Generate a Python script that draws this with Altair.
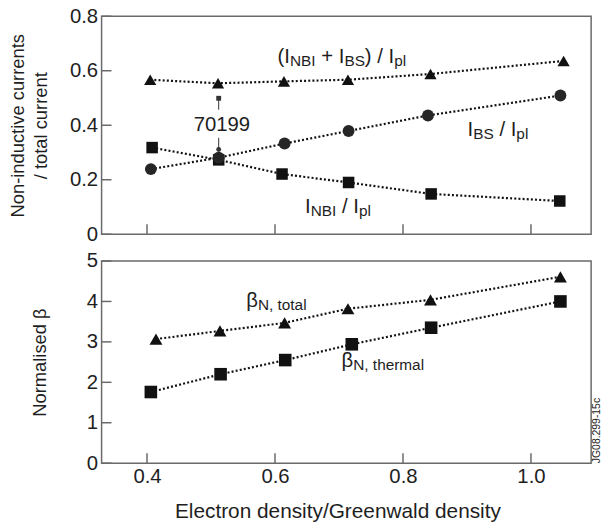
import altair as alt
import pandas as pd

# ---------------- data ----------------
# top panel: fraction of plasma current
ne_tot = [0.405, 0.511, 0.614, 0.714, 0.843, 1.051]
frac_total = [0.567, 0.554, 0.561, 0.567, 0.588, 0.636]      # (I_NBI + I_BS)/I_pl
ne_bs = [0.406, 0.512, 0.615, 0.715, 0.839, 1.046]
frac_bs = [0.239, 0.281, 0.333, 0.379, 0.436, 0.509]          # I_BS/I_pl
ne_nbi = [0.408, 0.512, 0.611, 0.715, 0.844, 1.045]
frac_nbi = [0.318, 0.273, 0.221, 0.190, 0.148, 0.122]         # I_NBI/I_pl

# bottom panel: normalised beta
ne_btot = [0.414, 0.514, 0.615, 0.714, 0.843, 1.046]
beta_total = [3.07, 3.27, 3.47, 3.82, 4.04, 4.61]
ne_bth = [0.406, 0.515, 0.616, 0.720, 0.844, 1.046]
beta_thermal = [1.76, 2.20, 2.55, 2.94, 3.35, 4.00]

x_ticks = [0.4, 0.6, 0.8, 1.0]
y_ticks_top = [0, 0.2, 0.4, 0.6, 0.8]
y_ticks_bot = [0, 1, 2, 3, 4, 5]

shot_label = "70199"
shot_x = 0.512
credit = "JG08.299-15c"

# ---------------- style ----------------
FONT = "Liberation Sans"
TXT = "#1e1e1e"
FRAME = "#6a6a6a"
INK = "#111111"
MAIN = 20.5
SUB = 15.5
SUB_SHIFT = 3
W = 494
H_TOP = 220
H_BOT = 204
X_DOMAIN = [0.329, 1.094]

CW = {'(': 333, ')': 333, ' ': 278, '+': 584, '/': 278, 'I': 278, 'N': 722,
      'B': 667, 'S': 667, 'p': 556, 'l': 222, ',': 278, 't': 278, 'o': 556,
      'a': 556, 'h': 556, 'e': 556, 'r': 333, 'm': 833, 'β': 575}


def tw(s, size):
    return sum(CW.get(c, 556) for c in s) / 1000.0 * size


def xenc(axis=None):
    return alt.X('x:Q', scale=alt.Scale(domain=X_DOMAIN, nice=False, zero=False),
                 axis=axis)


top_yaxis = alt.Axis(values=y_ticks_top,
                     labelExpr="datum.value == 0 ? '0' : format(datum.value, '.1f')",
                     ticks=False, domain=False, grid=False,
                     title=["Non-inductive currents", "/ total current"],
                     titleFontSize=18.5, titleFontWeight='normal', titleFont=FONT,
                     titleColor=TXT, titleX=-75, titleLineHeight=23,
                     labelFontSize=MAIN, labelFont=FONT, labelColor=TXT, labelPadding=4)
bot_yaxis = alt.Axis(values=y_ticks_bot, format='d',
                     ticks=False, domain=False, grid=False,
                     title="Normalised β",
                     titleFontSize=18.5, titleFontWeight='normal', titleFont=FONT,
                     titleColor=TXT, titleX=-53,
                     labelFontSize=MAIN, labelFont=FONT, labelColor=TXT, labelPadding=4)
bot_xaxis = alt.Axis(values=x_ticks, format='.1f', ticks=False, domain=False, grid=False,
                     title="Electron density/Greenwald density",
                     titleFontSize=21, titleFontWeight='normal', titleFont=FONT,
                     titleColor=TXT, titlePadding=14, titleX=238,
                     labelFontSize=MAIN, labelFont=FONT, labelColor=TXT, labelPadding=3)


def yenc_top():
    return alt.Y('y:Q', scale=alt.Scale(domain=[0, 0.8], nice=False, zero=False),
                 axis=top_yaxis)


def yenc_bot():
    return alt.Y('y:Q', scale=alt.Scale(domain=[0, 5], nice=False, zero=False),
                 axis=bot_yaxis)


def label_layers(x, y, segments, yenc, xaxis=None):
    layers = []
    dx = 0.0
    for txt, kind in segments:
        size = MAIN if kind == 'm' else SUB
        dy = 0 if kind == 'm' else SUB_SHIFT
        lead = len(txt) - len(txt.lstrip(' '))
        core = txt.strip(' ')
        trail = len(txt) - lead - len(core)
        dx += lead * tw(' ', size)
        df = pd.DataFrame({'x': [x], 'y': [y], 't': [core]})
        layers.append(
            alt.Chart(df).mark_text(align='left', baseline='alphabetic', dx=dx, dy=dy,
                                    fontSize=size, font=FONT, color=TXT)
            .encode(x=xenc(xaxis), y=yenc(), text='t:N'))
        dx += tw(core, size) + trail * tw(' ', size)
    return layers


def frame_and_ticks(yticks, height, yenc, xaxis=None):
    frame = alt.Chart(pd.DataFrame({'f': [0]})).mark_rect(
        fillOpacity=0, stroke=FRAME, strokeWidth=1.5).encode(
        x=alt.value(0), x2=alt.value(W), y=alt.value(0), y2=alt.value(height))
    yt = alt.Chart(pd.DataFrame({'y': yticks})).mark_rule(color=FRAME, strokeWidth=1.5).encode(
        x=alt.value(0), x2=alt.value(10), y=yenc())
    xt = alt.Chart(pd.DataFrame({'x': x_ticks})).mark_rule(color=FRAME, strokeWidth=1.5).encode(
        x=xenc(xaxis), y=alt.value(height), y2=alt.value(height - 10))
    return [frame, yt, xt]


def series_df(names, xs, ys):
    rows = []
    for n, xv, yv in zip(names, xs, ys):
        for a, b in zip(xv, yv):
            rows.append({'series': n, 'x': a, 'y': b})
    return pd.DataFrame(rows)


shape_scale = alt.Scale(domain=['nbi', 'bs', 'tot', 'th', 'bt'],
                        range=['square', 'circle', 'triangle-up', 'square', 'triangle-up'])
size_scale = alt.Scale(domain=['nbi', 'bs', 'tot', 'th', 'bt'],
                       range=[135, 170, 165, 140, 170])
color_scale = alt.Scale(domain=['nbi', 'bs', 'tot', 'th', 'bt'],
                        range=[INK, '#262626', INK, INK, INK])


def series_layers(df, yenc, xaxis=None):
    line = alt.Chart(df).mark_line(strokeDash=[2, 2.2], strokeWidth=2.2, color=INK).encode(
        x=xenc(xaxis), y=yenc(), detail='series:N')
    pts = alt.Chart(df).mark_point(filled=True, opacity=1).encode(
        x=xenc(xaxis), y=yenc(),
        shape=alt.Shape('series:N', scale=shape_scale, legend=None),
        size=alt.Size('series:N', scale=size_scale, legend=None),
        color=alt.Color('series:N', scale=color_scale, legend=None))
    return [line, pts]


# ---------------- top panel ----------------
top_df = series_df(['nbi', 'bs', 'tot'], [ne_nbi, ne_bs, ne_tot], [frac_nbi, frac_bs, frac_total])

arrow_rules = alt.Chart(pd.DataFrame({'x': [shot_x, shot_x], 'y': [0.457, 0.354],
                                      'y2': [0.494, 0.317]})).mark_rule(
    color='#333333', strokeWidth=1).encode(x=xenc(), y=yenc_top(), y2='y2:Q')
arrow_heads = alt.Chart(pd.DataFrame({'x': [shot_x, shot_x], 'y': [0.499, 0.311],
                                      'dir': ['up', 'down']})).mark_point(
    filled=True, opacity=1, size=24, color='#333333').encode(
    x=xenc(), y=yenc_top(),
    shape=alt.Shape('dir:N', scale=alt.Scale(domain=['up', 'down'],
                                             range=['triangle-up', 'triangle-down']),
                    legend=None))
shot_text = alt.Chart(pd.DataFrame({'x': [0.517], 'y': [0.401], 't': [shot_label]})).mark_text(
    fontSize=MAIN, font=FONT, color=TXT, baseline='middle', align='center').encode(
    x=xenc(), y=yenc_top(), text='t:N')

top_layers = (frame_and_ticks(y_ticks_top, H_TOP, yenc_top)
              + series_layers(top_df, yenc_top)
              + [arrow_rules, arrow_heads, shot_text]
              + label_layers(0.604, 0.627, [("(I", 'm'), ("NBI", 's'), (" + I", 'm'),
                                            ("BS", 's'), (") / I", 'm'), ("pl", 's')], yenc_top)
              + label_layers(0.901, 0.362, [("I", 'm'), ("BS", 's'), (" / I", 'm'),
                                            ("pl", 's')], yenc_top)
              + label_layers(0.647, 0.078, [("I", 'm'), ("NBI", 's'), (" / I", 'm'),
                                            ("pl", 's')], yenc_top))
top = alt.layer(*top_layers).properties(width=W, height=H_TOP)

# ---------------- bottom panel ----------------
bot_df = series_df(['th', 'bt'], [ne_bth, ne_btot], [beta_thermal, beta_total])
credit_text = alt.Chart(pd.DataFrame({'t': [credit]})).mark_text(
    angle=270, align='left', baseline='middle', fontSize=10.5, font=FONT, color=TXT).encode(
    x=alt.value(W + 6), y=alt.value(H_BOT), text='t:N')

bot_layers = (frame_and_ticks(y_ticks_bot, H_BOT, yenc_bot, bot_xaxis)
              + series_layers(bot_df, yenc_bot, bot_xaxis)
              + label_layers(0.555, 3.86, [("β", 'm'), ("N, total", 's')], yenc_bot, bot_xaxis)
              + label_layers(0.704, 2.38, [("β", 'm'), ("N, thermal", 's')], yenc_bot, bot_xaxis)
              + [credit_text])
bottom = alt.layer(*bot_layers).properties(width=W, height=H_BOT)

chart = alt.vconcat(top, bottom, spacing=6).properties(
    padding={'left': 7.5, 'top': 4, 'right': 2, 'bottom': 1}
).configure_view(stroke=None)

chart.save("out.html", embed_options={"renderer": "svg", "actions": False})
